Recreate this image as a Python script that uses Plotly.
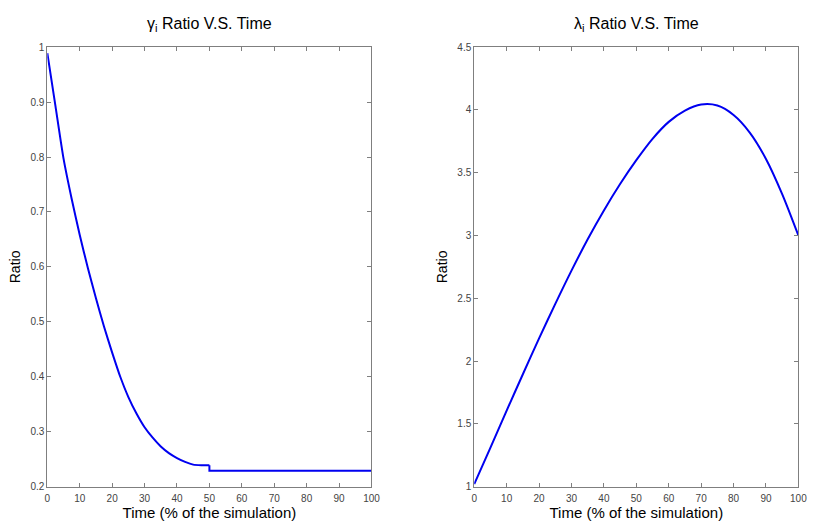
import plotly.graph_objects as go

# Left panel: gamma_i ratio
gamma_x = [0, 2.5, 5, 7.5, 10, 12.5, 15, 17.5, 20, 22.5, 25, 27.5, 30, 32.5, 35, 37.5, 40, 42.5, 45, 47.5, 50]
gamma_y = [0.989, 0.893, 0.797, 0.724, 0.658, 0.598, 0.543, 0.491, 0.444, 0.400, 0.363, 0.333, 0.308, 0.289,
           0.273, 0.261, 0.252, 0.245, 0.240, 0.239, 0.239]
gamma_tail_x = [50, 50, 100]
gamma_tail_y = [0.239, 0.229, 0.229]

# Right panel: lambda_i ratio
lam_x = [0, 5, 10, 15, 20, 25, 30, 35, 40, 45, 50, 55, 60, 65, 70, 75, 80, 85, 90, 95, 100]
lam_y = [1.02, 1.31, 1.605, 1.895, 2.18, 2.455, 2.72, 2.97, 3.20, 3.41, 3.60, 3.77, 3.905, 3.995, 4.043,
         4.035, 3.96, 3.82, 3.61, 3.33, 3.00]

x_ticks = [0, 10, 20, 30, 40, 50, 60, 70, 80, 90, 100]
gamma_ticks = [0.2, 0.3, 0.4, 0.5, 0.6, 0.7, 0.8, 0.9, 1]
lam_ticks = [1, 1.5, 2, 2.5, 3, 3.5, 4, 4.5]

titles = ["γ<sub>i</sub> Ratio V.S. Time", "λ<sub>i</sub> Ratio V.S. Time"]
x_title = "Time (% of the simulation)"
y_title = "Ratio"

BLUE = "#0000f0"
W, H = 813, 522
font = "Liberation Sans, Arial, sans-serif"

fig = go.Figure()
fig.add_trace(go.Scatter(x=gamma_x, y=gamma_y, mode="lines", line=dict(color=BLUE, width=2, shape="spline", smoothing=0.6),
                         xaxis="x", yaxis="y", showlegend=False))
fig.add_trace(go.Scatter(x=gamma_tail_x, y=gamma_tail_y, mode="lines", line=dict(color=BLUE, width=2),
                         xaxis="x", yaxis="y", showlegend=False))
fig.add_trace(go.Scatter(x=lam_x, y=lam_y, mode="lines", line=dict(color=BLUE, width=2, shape="spline", smoothing=0.8),
                         xaxis="x2", yaxis="y2", showlegend=False))

ydom = [(H - 491) / H, (H - 43) / H]
xdom1 = [45 / W, 374 / W]
xdom2 = [478.3 / W, 807.3 / W]

axis_common = dict(showgrid=False, zeroline=False, showline=True, linecolor="#7f7f7f", linewidth=1,
                   ticks="inside", ticklen=4, tickcolor="#7f7f7f", mirror="ticks",
                   tickfont=dict(family=font, size=10, color="#444444"))
xt_font = dict(family=font, size=15, color="black")
yt_font = dict(family=font, size=14, color="black")

fig.update_layout(
    width=W, height=H, margin=dict(l=0, r=0, t=0, b=0),
    paper_bgcolor="white", plot_bgcolor="white",
    xaxis=dict(domain=xdom1, range=[0, 100], tickvals=x_ticks, anchor="y", ticklabelstandoff=2,
               title=dict(text=x_title, font=xt_font, standoff=2), **axis_common),
    yaxis=dict(domain=ydom, range=[0.2, 1], tickvals=gamma_ticks, anchor="x",
               title=dict(text=y_title, font=yt_font, standoff=6), **axis_common),
    xaxis2=dict(domain=xdom2, range=[0, 100], tickvals=x_ticks, anchor="y2", ticklabelstandoff=2,
                title=dict(text=x_title, font=xt_font, standoff=2), **axis_common),
    yaxis2=dict(domain=ydom, range=[1, 4.5], tickvals=lam_ticks, anchor="x2",
                title=dict(text=y_title, font=yt_font, standoff=6), **axis_common),
    annotations=[
        dict(text=titles[0], x=(xdom1[0] + xdom1[1]) / 2, y=1 - 20 / H, xref="paper", yref="paper",
             xanchor="center", yanchor="middle", showarrow=False, font=dict(family=font, size=16, color="black")),
        dict(text=titles[1], x=(xdom2[0] + xdom2[1]) / 2, y=1 - 20 / H, xref="paper", yref="paper",
             xanchor="center", yanchor="middle", showarrow=False, font=dict(family=font, size=16, color="black")),
    ],
)

fig.write_html("out.html")
